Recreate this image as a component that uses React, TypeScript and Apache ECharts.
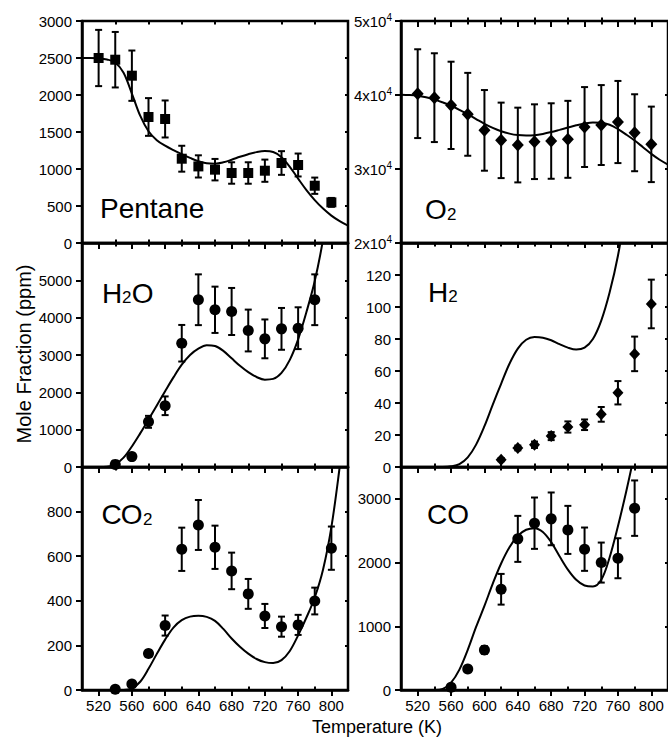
import React, { useEffect, useRef } from "react";
import * as echarts from "echarts";

// ---- data ----
const temps = [520, 540, 560, 580, 600, 620, 640, 660, 680, 700, 720, 740, 760, 780, 800];
const majorTicks = [520, 560, 600, 640, 680, 720, 760, 800];
const minorTicks = [540, 580, 620, 660, 700, 740, 780];

const pentane = [2500, 2477, 2261, 1703, 1676, 1139, 1035, 991, 946, 946, 977, 1081, 1054, 774, 549];
const pentaneErr = [380, 375, 340, 255, 250, 175, 150, 145, 145, 145, 150, 160, 155, 110, 60];

const o2 = [40180, 39640, 38600, 37390, 35220, 33870, 33240, 33690, 33780, 34010, 35670, 35940, 36350, 34900, 33330];
const o2Err = [6000, 6000, 5900, 5600, 5450, 5100, 5050, 5050, 5100, 5200, 5400, 5400, 5550, 5200, 5100];

const h2o = [null, 70, 278, 1210, 1640, 3315, 4480, 4211, 4166, 3656, 3432, 3700, 3718, 4480, null];
const h2oErr = [null, 30, 60, 160, 250, 490, 680, 620, 630, 560, 520, 560, 560, 680, null];

const h2 = [null, null, null, null, null, 4.6, 11.9, 13.9, 19.3, 25.0, 26.4, 32.9, 46.4, 70.7, 101.9];
const h2Err = [null, null, null, null, null, 1, 1.5, 2, 2.5, 3.5, 3.3, 4.6, 7.3, 10.8, 15.2];

const co2 = [null, 3, 27, 164, 289, 631, 740, 640, 534, 431, 332, 284, 292, 399, 636];
const co2Err = [null, 5, 10, 15, 45, 97, 112, 97, 82, 67, 54, 45, 45, 60, 97];

const co = [null, null, 42, 330, 628, 1581, 2372, 2618, 2686, 2513, 2210, 2000, 2068, 2854, null];
const coErr = [null, null, 20, 40, 60, 241, 361, 403, 414, 377, 340, 314, 314, 435, null];

const modelTemps = [500, 510, 520, 530, 540, 550, 560, 570, 580, 590, 600, 610, 620, 630, 640, 650, 660, 670, 680, 690, 700, 710, 720, 730, 740, 750, 760, 770, 780, 790, 800, 810, 820];
const pentaneModel = [2500, 2500, 2495, 2480, 2440, 2300, 2020, 1720, 1510, 1390, 1315, 1255, 1200, 1150, 1105, 1078, 1072, 1090, 1125, 1165, 1200, 1228, 1242, 1230, 1160, 1030, 870, 715, 580, 465, 370, 295, 235];
const o2Model = [40050, 40000, 39900, 39700, 39400, 39000, 38550, 38000, 37400, 36750, 36100, 35550, 35100, 34780, 34580, 34520, 34570, 34740, 34990, 35290, 35600, 35900, 36150, 36300, 36260, 35980, 35400, 34650, 33850, 32950, 32050, 31250, 30600];
const h2oModel = [null, null, 0, 8, 70, 250, 550, 900, 1270, 1650, 2030, 2400, 2740, 3000, 3170, 3260, 3240, 3110, 2910, 2710, 2540, 2410, 2340, 2360, 2520, 2870, 3420, 4150, 4980, 6100, 7600, null, null];
const h2Model = [null, null, null, null, null, 0, 0.4, 1.8, 6, 14, 25.5, 39, 52, 64.5, 74, 79.5, 81.2, 80.8, 79.2, 76.8, 74.6, 73.4, 74.6, 80, 91.5, 109, 132, 163, null, null, null, null, null];
const co2Model = [null, null, null, null, null, 0, 7, 37, 95, 162, 226, 280, 313, 329, 333, 328, 310, 274, 231, 194, 163, 139, 125, 121, 134, 175, 245, 325, 415, 540, 730, 1000, 1300];
const coModel = [null, null, null, null, 0, 15, 115, 320, 630, 990, 1320, 1670, 1985, 2240, 2420, 2515, 2540, 2480, 2320, 2100, 1890, 1730, 1640, 1625, 1730, 2080, 2570, 3120, 3720, 4350, null, null, null];

const FONT = "Liberation Sans, Arial, Helvetica, sans-serif";

type Panel = {
  col: number; row: number;
  vals: (number | null)[]; errs: (number | null)[]; model: (number | null)[];
  min: number; max: number; interval: number;
  symbol: string; size: number | number[]; showMax: boolean; sci: boolean;
};

const panels: Panel[] = [
  { col: 0, row: 0, vals: pentane, errs: pentaneErr, model: pentaneModel, min: 0, max: 3000, interval: 500, symbol: "rect", size: 10, showMax: true, sci: false },
  { col: 1, row: 0, vals: o2, errs: o2Err, model: o2Model, min: 20000, max: 50000, interval: 10000, symbol: "diamond", size: [12, 13], showMax: true, sci: true },
  { col: 0, row: 1, vals: h2o, errs: h2oErr, model: h2oModel, min: 0, max: 6000, interval: 1000, symbol: "circle", size: 11, showMax: false, sci: false },
  { col: 1, row: 1, vals: h2, errs: h2Err, model: h2Model, min: 0, max: 140, interval: 20, symbol: "diamond", size: [11, 12], showMax: false, sci: false },
  { col: 0, row: 2, vals: co2, errs: co2Err, model: co2Model, min: 0, max: 1000, interval: 200, symbol: "circle", size: 11, showMax: false, sci: false },
  { col: 1, row: 2, vals: co, errs: coErr, model: coModel, min: 0, max: 3500, interval: 1000, symbol: "circle", size: 11, showMax: false, sci: false },
];

const colLeft = [82, 401];
const colWidth = [266, 267];
const rowTop = [21, 243, 467];
const rowHeight = [222, 224, 223];

function buildOption() {
  const grid: any[] = [];
  const xAxis: any[] = [];
  const yAxis: any[] = [];
  const series: any[] = [];

  panels.forEach((p, i) => {
    grid.push({
      left: colLeft[p.col], top: rowTop[p.row], width: colWidth[p.col], height: rowHeight[p.row],
      show: true, borderColor: "#000", borderWidth: 2.5, containLabel: false,
    });
    const baseX = { gridIndex: i, type: "value", min: 500, max: 820, splitLine: { show: false } };
    const tickStyle = { color: "#000", width: 2 };
    xAxis.push({
      ...baseX,
      axisLine: { show: true, onZero: false, lineStyle: { color: "#000", width: 2.5 } },
      axisTick: { show: true, customValues: majorTicks, length: 5, inside: false, lineStyle: tickStyle },
      axisLabel: { show: p.row === 2, customValues: majorTicks, fontSize: 15, color: "#000", margin: 8, fontFamily: FONT, formatter: (v: number) => String(v) },
    });
    xAxis.push({
      ...baseX,
      axisLine: { show: false },
      axisTick: { show: true, customValues: majorTicks, length: 6, inside: true, lineStyle: tickStyle },
      axisLabel: { show: false },
    });
    xAxis.push({
      ...baseX,
      axisLine: { show: false },
      axisTick: { show: true, customValues: minorTicks, length: 3.5, inside: false, lineStyle: tickStyle },
      axisLabel: { show: false },
    });
    xAxis.push({
      ...baseX,
      axisLine: { show: false },
      axisTick: { show: true, customValues: minorTicks, length: 3.5, inside: true, lineStyle: tickStyle },
      axisLabel: { show: false },
    });

    const baseY = { gridIndex: i, type: "value", min: p.min, max: p.max, interval: p.interval, splitLine: { show: false } };
    yAxis.push({
      ...baseY,
      axisLine: { show: true, onZero: false, lineStyle: { color: "#000", width: 2.5 } },
      axisTick: { show: true, length: 6, inside: false, lineStyle: tickStyle },
      axisLabel: p.sci
        ? {
            show: true, margin: 9, color: "#000", fontFamily: FONT,
            formatter: (v: number) => `{a|${Math.round(v / 10000)}x10}{s|4}`,
            rich: {
              a: { fontSize: 15, lineHeight: 18, color: "#000", fontFamily: FONT },
              s: { fontSize: 10, lineHeight: 10, verticalAlign: "top", color: "#000", fontFamily: FONT },
            },
            showMaxLabel: true, showMinLabel: true,
          }
        : {
            show: true, margin: 10, fontSize: 15, color: "#000", fontFamily: FONT,
            showMaxLabel: p.showMax, showMinLabel: true,
            formatter: (v: number) => String(v),
          },
    });
    yAxis.push({
      ...baseY,
      axisLine: { show: false },
      axisTick: { show: true, length: 3, inside: true, lineStyle: tickStyle },
      axisLabel: { show: false },
    });

    const modelData = modelTemps.map((t, k) => [t, p.model[k]]).filter((d) => d[1] !== null);
    series.push({
      type: "line", xAxisIndex: 4 * i, yAxisIndex: 2 * i,
      data: modelData, showSymbol: false, symbol: "none",
      smooth: 0.35, clip: true,
      lineStyle: { color: "#000", width: 2 }, silent: true, z: 2,
    });

    const errData = temps
      .map((t, k) => [t, p.vals[k], p.errs[k]])
      .filter((d) => d[1] !== null);
    series.push({
      type: "custom", xAxisIndex: 4 * i, yAxisIndex: 2 * i,
      data: errData, encode: { x: 0, y: 1 }, silent: true, z: 3,
      renderItem: (params: any, api: any) => {
        const x = api.value(0), y = api.value(1), e = api.value(2);
        const top = api.coord([x, y + e]);
        const bot = api.coord([x, y - e]);
        const hw = 3.5;
        const st = { stroke: "#000", lineWidth: 2 };
        return {
          type: "group",
          children: [
            { type: "line", shape: { x1: top[0], y1: top[1], x2: bot[0], y2: bot[1] }, style: st },
            { type: "line", shape: { x1: top[0] - hw, y1: top[1], x2: top[0] + hw, y2: top[1] }, style: st },
            { type: "line", shape: { x1: bot[0] - hw, y1: bot[1], x2: bot[0] + hw, y2: bot[1] }, style: st },
          ],
        };
      },
    });

    series.push({
      type: "scatter", xAxisIndex: 4 * i, yAxisIndex: 2 * i,
      data: errData.map((d) => [d[0], d[1]]),
      symbol: p.symbol, symbolSize: p.size,
      itemStyle: { color: "#000", opacity: 1 }, silent: true, z: 4,
    });
  });

  const txt = (text: string, x: number, y: number, size: number) => ({
    type: "text", x, y, silent: true,
    style: { text, fontSize: size, fontFamily: FONT, fill: "#000", align: "left", verticalAlign: "middle" },
  });

  const graphic: any[] = [
    txt("Pentane", 100, 208.6, 28),
    txt("O", 425, 209.3, 28), txt("2", 447, 214.1, 17),
    txt("H", 102, 293, 28), txt("2", 122, 297.8, 17), txt("O", 131.7, 293, 28),
    txt("H", 428, 292, 28), txt("2", 448.2, 296.8, 17),
    txt("C", 101.5, 514.3, 28), txt("O", 120.7, 514.3, 28), txt("2", 143, 519.1, 17),
    txt("C", 427, 514.3, 28), txt("O", 447.2, 514.3, 28),
    {
      type: "text", x: 24, y: 354, rotation: Math.PI / 2, silent: true,
      style: { text: "Mole Fraction (ppm)", fontSize: 20, fontFamily: FONT, fill: "#000", align: "center", verticalAlign: "middle" },
    },
    {
      type: "text", x: 377, y: 727, silent: true,
      style: { text: "Temperature (K)", fontSize: 18, fontFamily: FONT, fill: "#000", align: "center", verticalAlign: "middle" },
    },
  ];

  return {
    animation: false,
    backgroundColor: "#fff",
    grid, xAxis, yAxis, series, graphic,
  };
}

export default function App() {
  const ref = useRef<HTMLDivElement>(null);
  useEffect(() => {
    const chart = echarts.init(ref.current!, null, { renderer: "svg" });
    chart.setOption(buildOption() as any);
    return () => chart.dispose();
  }, []);
  return (
    <div
      ref={ref}
      style={{ position: "absolute", left: 0, top: 0, width: 668, height: 737, background: "#fff" }}
    />
  );
}
